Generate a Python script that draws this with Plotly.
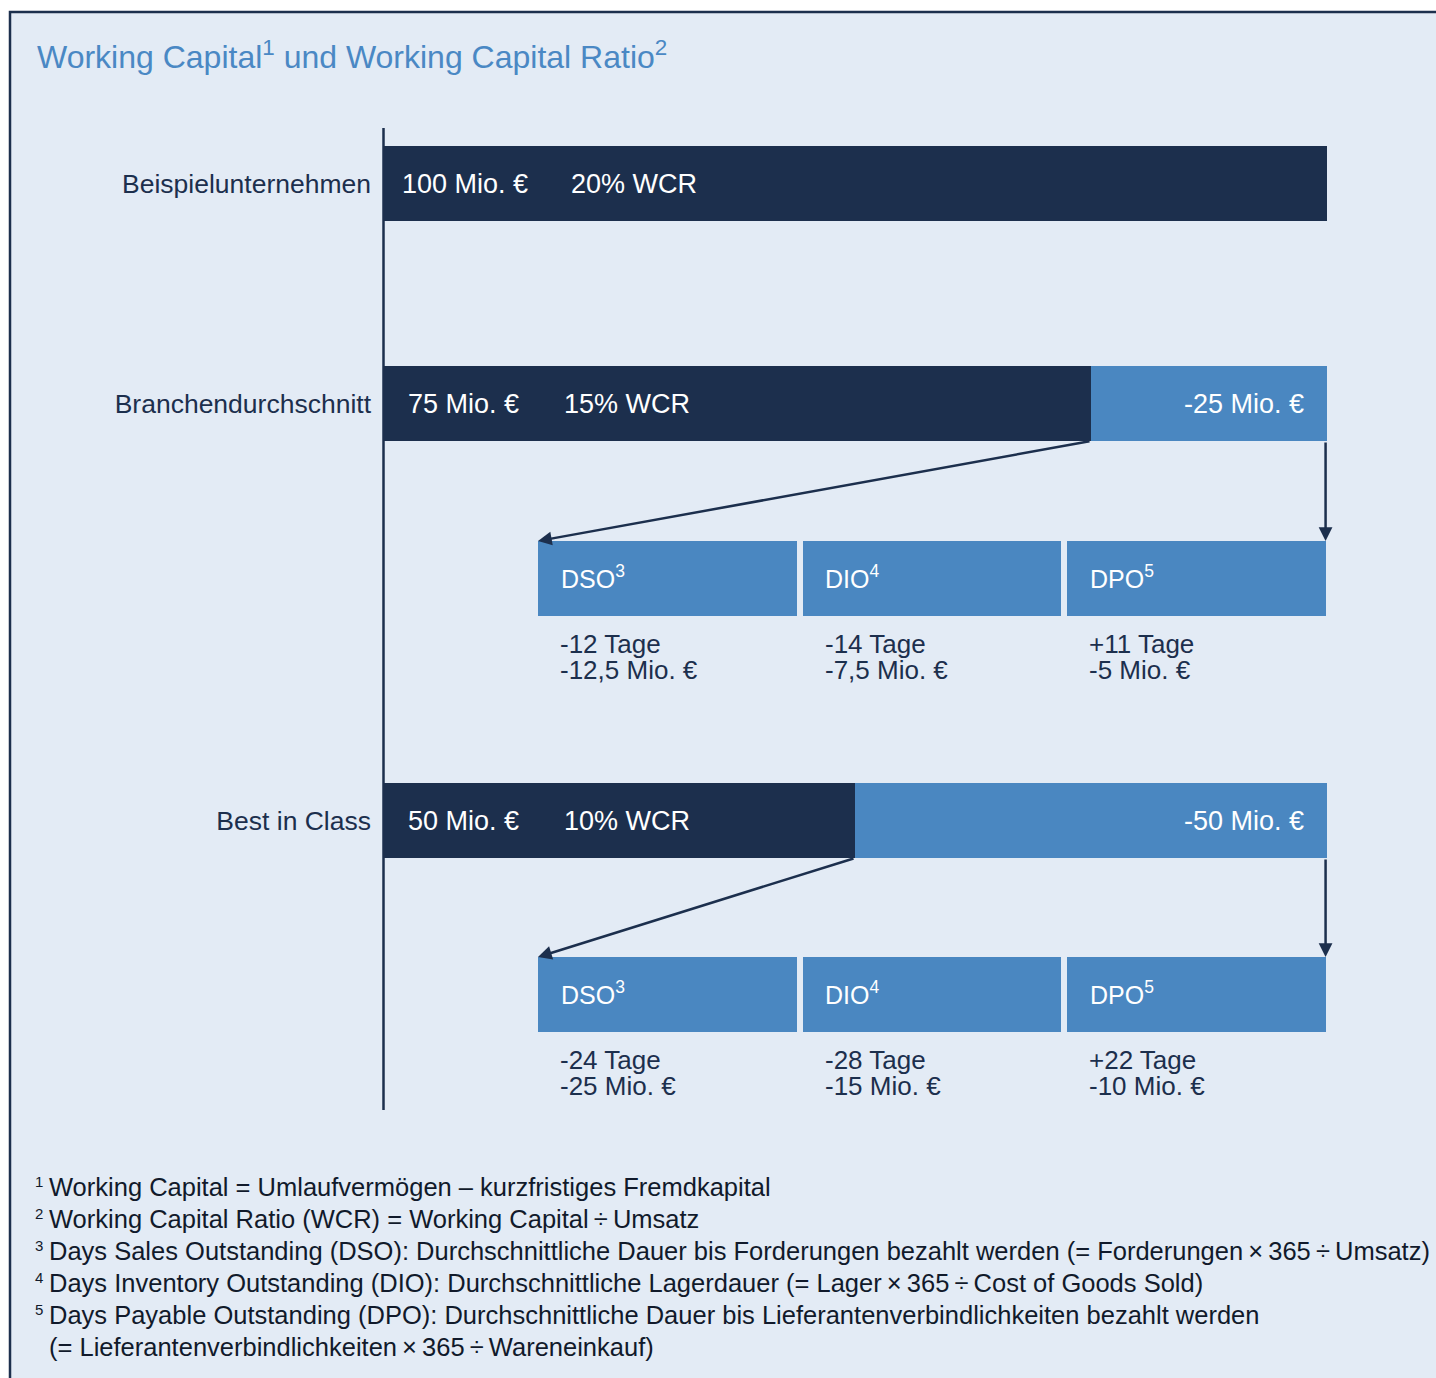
import plotly.graph_objects as go

# ---------------- data ----------------
rows = ["Beispielunternehmen", "Branchendurchschnitt", "Best in Class"]
working_capital = [100, 75, 50]          # Mio. €
reduction = [0, 25, 50]                  # Mio. € (light segment)
wcr = [20, 15, 10]                       # % WCR

drivers = ["DSO", "DIO", "DPO"]
driver_sup = ["3", "4", "5"]
days_branch = ["-12", "-14", "+11"]
mio_branch = ["-12,5", "-7,5", "-5"]
days_best = ["-24", "-28", "+22"]
mio_best = ["-25", "-15", "-10"]

TS = "\u2009"
footnotes = [
    ("1", "Working Capital = Umlaufvermögen – kurzfristiges Fremdkapital"),
    ("2", f"Working Capital Ratio (WCR) = Working Capital{TS}÷{TS}Umsatz"),
    ("3", f"Days Sales Outstanding (DSO): Durchschnittliche Dauer bis Forderungen bezahlt werden (= Forderungen{TS}×{TS}365{TS}÷{TS}Umsatz)"),
    ("4", f"Days Inventory Outstanding (DIO): Durchschnittliche Lagerdauer (= Lager{TS}×{TS}365{TS}÷{TS}Cost of Goods Sold)"),
    ("5", "Days Payable Outstanding (DPO): Durchschnittliche Dauer bis Lieferantenverbindlichkeiten bezahlt werden"),
    ("", f"(= Lieferantenverbindlichkeiten{TS}×{TS}365{TS}÷{TS}Wareneinkauf)"),
]

# ---------------- style / layout ----------------
NAVY = "#1c2f4d"
BLUE = "#4a87c1"
BG = "#e3ebf5"
FONT = "Liberation Sans"

W, H = 1436, 1378
L, R, T, B = 383, 109, 128, 268
PW, PH = W - L - R, H - T - B

row_y = [55.5, 275.5, 692.5]       # main bar rows (plot-pixel units, reversed axis)
sub_y = [450.5, 866.5]             # driver box rows
bar_h = 75
box_start, box_w, box_gap = 16.42, 27.4, 0.64

val_x = [1.8, 2.4, 2.4]
wcr_x = [19.7, 19.0, 19.0]


def px(p):
    return (p - L) / PW


def py(p):
    return (T + PH - p) / PH


fig = go.Figure()

# main bars
fig.add_trace(go.Bar(
    y=row_y, x=working_capital, base=[0] * 3, orientation="h", width=bar_h,
    marker=dict(color=NAVY, line=dict(width=0)), hoverinfo="skip", showlegend=False))
fig.add_trace(go.Bar(
    y=row_y[1:], x=reduction[1:], base=working_capital[1:], orientation="h", width=bar_h,
    marker=dict(color=BLUE, line=dict(width=0)), hoverinfo="skip", showlegend=False))

# driver boxes
for sy in sub_y:
    bases = [box_start + i * (box_w + box_gap) for i in range(len(drivers))]
    fig.add_trace(go.Bar(
        y=[sy] * len(drivers), x=[box_w] * len(drivers), base=bases, orientation="h",
        width=bar_h, marker=dict(color=BLUE, line=dict(width=0)),
        hoverinfo="skip", showlegend=False))

ann = []
# texts in main bars
for i, y in enumerate(row_y):
    ann.append(dict(x=val_x[i], y=y, xref="x", yref="y",
                    text=f"{working_capital[i]} Mio. €", showarrow=False,
                    xanchor="left", yanchor="middle",
                    font=dict(family=FONT, size=27, color="white")))
    ann.append(dict(x=wcr_x[i], y=y, xref="x", yref="y",
                    text=f"{wcr[i]}% WCR", showarrow=False,
                    xanchor="left", yanchor="middle",
                    font=dict(family=FONT, size=27, color="white")))
    if reduction[i]:
        ann.append(dict(x=97.8, y=y, xref="x", yref="y",
                        text=f"-{reduction[i]} Mio. €", showarrow=False,
                        xanchor="right", yanchor="middle",
                        font=dict(family=FONT, size=27, color="white")))

# driver labels and values
for sy, days, mio in [(sub_y[0], days_branch, mio_branch), (sub_y[1], days_best, mio_best)]:
    for j, d in enumerate(drivers):
        x0 = box_start + j * (box_w + box_gap) + 2.2
        ann.append(dict(x=x0, y=sy - 1.5, xref="x", yref="y",
                        text=f"{d}<sup>{driver_sup[j]}</sup>", showarrow=False,
                        xanchor="left", yanchor="middle",
                        font=dict(family=FONT, size=25, color="white")))
        ann.append(dict(x=x0 - 0.1, y=sy + 65.5, xref="x", yref="y",
                        text=f"{days[j]} Tage", showarrow=False,
                        xanchor="left", yanchor="middle",
                        font=dict(family=FONT, size=26, color=NAVY)))
        ann.append(dict(x=x0 - 0.1, y=sy + 91.5, xref="x", yref="y",
                        text=f"{mio[j]} Mio. €", showarrow=False,
                        xanchor="left", yanchor="middle",
                        font=dict(family=FONT, size=26, color=NAVY)))

# arrows
for i, sy in [(1, sub_y[0]), (2, sub_y[1])]:
    top = sy - bar_h / 2
    bottom = row_y[i] + bar_h / 2
    ann.append(dict(x=box_start, y=top, ax=working_capital[i], ay=bottom,
                    xref="x", yref="y", axref="x", ayref="y", showarrow=True,
                    arrowhead=2, arrowsize=1.1, arrowwidth=2.5, arrowcolor=NAVY,
                    standoff=0, text=""))
    ann.append(dict(x=99.85, y=top, ax=99.85, ay=bottom,
                    xref="x", yref="y", axref="x", ayref="y", showarrow=True,
                    arrowhead=2, arrowsize=1.1, arrowwidth=2.5, arrowcolor=NAVY,
                    standoff=0, text=""))

# title
ann.append(dict(x=px(35), y=py(55), xref="paper", yref="paper",
                text="Working Capital<sup>1</sup> und Working Capital Ratio<sup>2</sup>",
                showarrow=False, xanchor="left", yanchor="middle",
                font=dict(family=FONT, size=32, color="#4a88c4")))

# footnotes
for k, (sup, txt) in enumerate(footnotes):
    ypix = 1187 + 32 * k
    if sup:
        ann.append(dict(x=px(33), y=py(ypix - 6), xref="paper", yref="paper",
                        text=sup, showarrow=False, xanchor="left", yanchor="middle",
                        font=dict(family=FONT, size=15, color="#111a2b")))
    ann.append(dict(x=px(47), y=py(ypix), xref="paper", yref="paper",
                    text=txt, showarrow=False, xanchor="left", yanchor="middle",
                    font=dict(family=FONT, size=25.5, color="#111a2b")))

# background panel with frame, and the vertical axis line at the plot's left edge
shapes = [
    dict(type="rect", xref="paper", yref="paper", layer="below",
         x0=px(10), x1=px(W + 20), y0=py(H + 20), y1=py(12),
         fillcolor=BG, line=dict(color=NAVY, width=2.5)),
    dict(type="line", xref="paper", yref="paper", layer="above",
         x0=px(383.5), x1=px(383.5), y0=0, y1=1, line=dict(color=NAVY, width=2.5)),
]

fig.update_layout(
    width=W, height=H, margin=dict(l=L, r=R, t=T, b=B, pad=0),
    paper_bgcolor="white", plot_bgcolor="rgba(0,0,0,0)",
    barmode="overlay", bargap=0, showlegend=False,
    annotations=ann, shapes=shapes,
    xaxis=dict(range=[0, 100], visible=False, fixedrange=True),
    yaxis=dict(range=[PH, 0], showgrid=False, zeroline=False, showline=False,
               tickvals=row_y, ticktext=rows, ticks="", ticklabelstandoff=11,
               tickfont=dict(family=FONT, size=26.5, color=NAVY), fixedrange=True),
)

fig.write_html("out.html")
